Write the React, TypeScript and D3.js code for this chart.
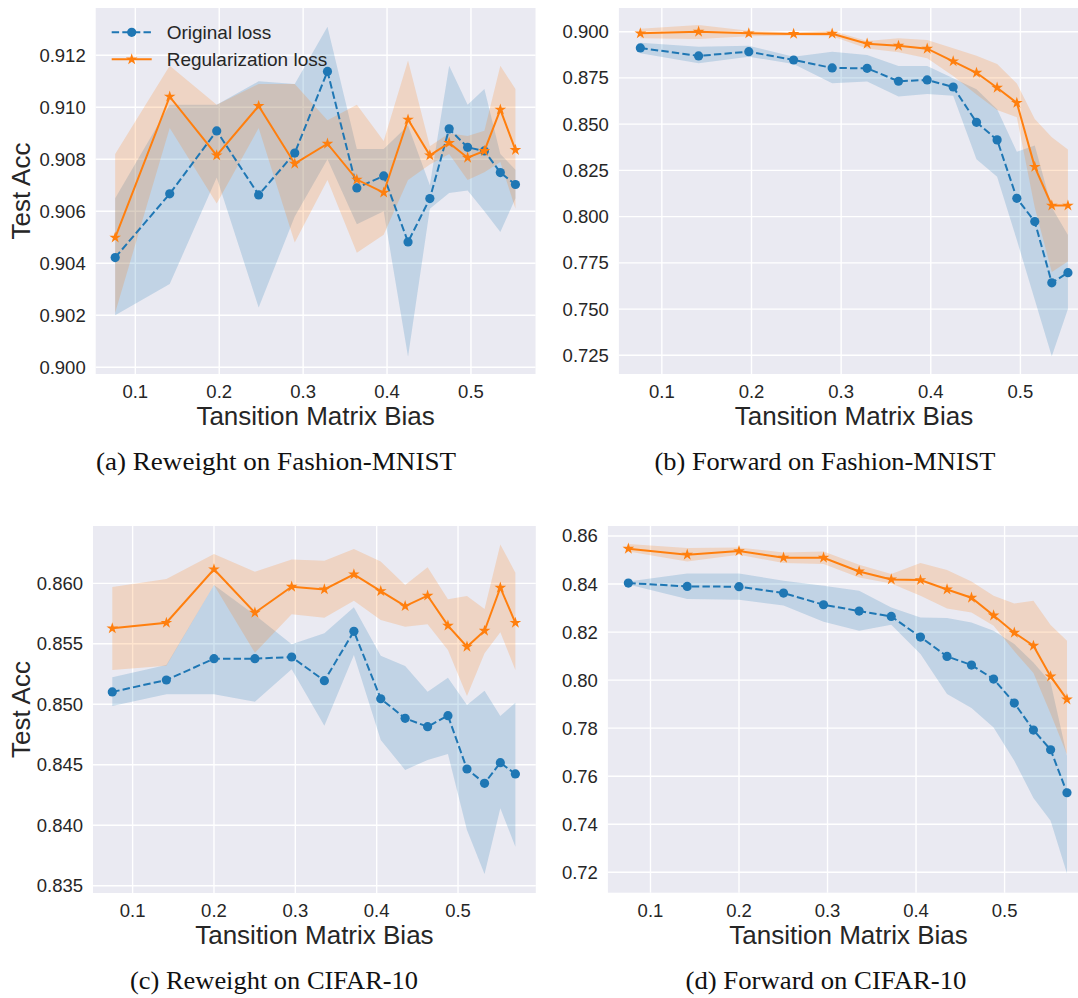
import React from 'react';
import * as d3 from 'd3';

// x positions (transition matrix bias) for each row of panels
const xTop = [0.076, 0.141, 0.197, 0.247, 0.290, 0.329, 0.364, 0.396, 0.425, 0.451, 0.474, 0.496, 0.516, 0.535, 0.553];
const xBottom = [0.075, 0.1415, 0.200, 0.2503, 0.2955, 0.3357, 0.372, 0.405, 0.435, 0.4626, 0.4876, 0.511, 0.5326, 0.552, 0.5705];

const xTicks = [0.1, 0.2, 0.3, 0.4, 0.5];

// (a) Reweight on Fashion-MNIST
const aOrig = [0.90422, 0.90667, 0.90909, 0.90663, 0.90824, 0.91138, 0.90690, 0.90736, 0.90482, 0.90649, 0.90917, 0.90846, 0.90832, 0.90749, 0.90703];
const aOrigLo = [0.9020, 0.9032, 0.9073, 0.9023, 0.9058, 0.9080, 0.9055, 0.9060, 0.9004, 0.9061, 0.9067, 0.9068, 0.9060, 0.9052, 0.9065];
const aOrigHi = [0.9065, 0.9101, 0.9101, 0.9110, 0.9109, 0.9131, 0.9084, 0.9084, 0.9093, 0.9070, 0.9116, 0.9101, 0.9107, 0.9082, 0.9076];
const aReg = [0.90499, 0.91041, 0.90815, 0.91005, 0.90783, 0.90860, 0.90722, 0.90672, 0.90953, 0.90815, 0.90863, 0.90806, 0.90832, 0.90991, 0.90836];
const aRegLo = [0.9021, 0.9092, 0.9063, 0.9092, 0.9048, 0.9072, 0.9044, 0.9051, 0.9072, 0.9078, 0.9082, 0.9072, 0.9075, 0.9079, 0.9061];
const aRegHi = [0.9082, 0.9116, 0.9101, 0.9109, 0.9109, 0.9095, 0.9101, 0.9087, 0.9118, 0.9085, 0.9090, 0.9089, 0.9091, 0.9116, 0.9107];
const aTicks = [0.900, 0.902, 0.904, 0.906, 0.908, 0.910, 0.912];

// (b) Forward on Fashion-MNIST
const bOrig = [0.8912, 0.8869, 0.8892, 0.8847, 0.8804, 0.8802, 0.8732, 0.8739, 0.8701, 0.8510, 0.8415, 0.8099, 0.7973, 0.7642, 0.7697];
const bOrigLo = [0.8883, 0.8829, 0.8865, 0.8825, 0.8721, 0.8730, 0.8649, 0.8663, 0.8654, 0.8310, 0.8216, 0.7874, 0.7550, 0.7245, 0.7500];
const bOrigHi = [0.8940, 0.8919, 0.8924, 0.8865, 0.8892, 0.8874, 0.8815, 0.8815, 0.8748, 0.8689, 0.8580, 0.8351, 0.8384, 0.8050, 0.7901];
const bReg = [0.8991, 0.9000, 0.8991, 0.8988, 0.8989, 0.8935, 0.8924, 0.8908, 0.8840, 0.8778, 0.8697, 0.8615, 0.8269, 0.8060, 0.8060];
const bRegLo = [0.8965, 0.8961, 0.8975, 0.8980, 0.8975, 0.8909, 0.8889, 0.8856, 0.8760, 0.8660, 0.8577, 0.8537, 0.8050, 0.7700, 0.7757];
const bRegHi = [0.9016, 0.9036, 0.9005, 0.8995, 0.9005, 0.8949, 0.8964, 0.8955, 0.8910, 0.8870, 0.8825, 0.8720, 0.8528, 0.8429, 0.8363];
const bTicks = [0.725, 0.750, 0.775, 0.800, 0.825, 0.850, 0.875, 0.900];

// (c) Reweight on CIFAR-10
const cOrig = [0.85102, 0.85201, 0.85377, 0.85377, 0.85391, 0.85195, 0.85603, 0.85046, 0.84884, 0.84815, 0.84906, 0.84465, 0.84347, 0.84517, 0.84424];
const cOrigLo = [0.84986, 0.85083, 0.85083, 0.85022, 0.85289, 0.84823, 0.85407, 0.84705, 0.84457, 0.84540, 0.84590, 0.83961, 0.83598, 0.84140, 0.83823];
const cOrigHi = [0.85223, 0.85325, 0.85986, 0.85738, 0.85496, 0.85587, 0.85802, 0.85402, 0.85316, 0.85104, 0.85220, 0.84994, 0.85112, 0.84903, 0.85013];
const cReg = [0.85628, 0.85674, 0.86116, 0.85757, 0.85972, 0.85950, 0.86074, 0.85936, 0.85812, 0.85898, 0.85650, 0.85476, 0.85608, 0.85964, 0.85674];
const cRegLo = [0.85283, 0.85319, 0.85986, 0.85427, 0.85744, 0.85716, 0.85856, 0.85697, 0.85642, 0.85661, 0.85449, 0.85069, 0.85421, 0.85595, 0.85283];
const cRegHi = [0.85970, 0.86036, 0.86242, 0.86096, 0.86198, 0.86187, 0.86283, 0.86180, 0.85986, 0.86132, 0.85868, 0.85895, 0.85788, 0.86322, 0.86088];
const cTicks = [0.835, 0.840, 0.845, 0.850, 0.855, 0.860];

// (d) Forward on CIFAR-10
const dOrig = [0.84042, 0.83900, 0.83888, 0.83625, 0.83138, 0.82876, 0.82651, 0.81793, 0.80986, 0.80628, 0.80045, 0.79046, 0.77922, 0.77102, 0.75312];
const dOrigLo = [0.83980, 0.83375, 0.83350, 0.83109, 0.82430, 0.82056, 0.82306, 0.81086, 0.79420, 0.78838, 0.78030, 0.76644, 0.75091, 0.74146, 0.71952];
const dOrigHi = [0.84108, 0.84441, 0.84441, 0.84137, 0.83930, 0.83721, 0.83027, 0.82610, 0.82584, 0.82401, 0.82056, 0.81500, 0.80736, 0.79904, 0.76852];
const dReg = [0.85470, 0.85220, 0.85374, 0.85095, 0.85095, 0.84525, 0.84190, 0.84167, 0.83775, 0.83430, 0.82693, 0.81973, 0.81431, 0.80153, 0.79196];
const dRegLo = [0.85357, 0.84940, 0.85220, 0.84874, 0.84833, 0.84277, 0.84025, 0.83513, 0.82985, 0.82818, 0.82264, 0.81200, 0.80300, 0.78600, 0.76900];
const dRegHi = [0.85665, 0.85499, 0.85524, 0.85316, 0.85357, 0.84803, 0.84416, 0.84874, 0.84583, 0.84108, 0.83513, 0.83192, 0.83305, 0.82293, 0.81640];
const dTicks = [0.72, 0.74, 0.76, 0.78, 0.80, 0.82, 0.84, 0.86];

const legendLabels = ['Original loss', 'Regularization loss'];

const BLUE = '#1f77b4';
const ORANGE = '#ff7f0e';
const TEXT = '#262626';
const SANS = '"Liberation Sans", Arial, "DejaVu Sans", sans-serif';
const SERIF = '"Liberation Serif", "DejaVu Serif", serif';

interface PanelProps {
  id: string;
  xs: number[];
  orig: number[]; origLo: number[]; origHi: number[];
  reg: number[]; regLo: number[]; regHi: number[];
  yTicks: number[];
  fmt: string;
  xDomain: [number, number];
  yDomain: [number, number];
  left: number; right: number; top: number; bottom: number;
  yLabel?: boolean;
  legend?: boolean;
  caption: string;
  captionX: number;
  captionW: number;
}

const starPath = d3.symbol(d3.symbolStar, 42)() || '';

const Panel: React.FC<PanelProps> = (p) => {
  const x = d3.scaleLinear().domain(p.xDomain).range([p.left, p.right]);
  const y = d3.scaleLinear().domain(p.yDomain).range([p.bottom, p.top]);
  const fmt = d3.format(p.fmt);

  const band = (lo: number[], hi: number[]) =>
    d3.area<number>()
      .x((_, i) => x(p.xs[i]))
      .y0((_, i) => y(lo[i]))
      .y1((_, i) => y(hi[i]))(lo) || '';
  const line = (v: number[]) =>
    d3.line<number>().x((_, i) => x(p.xs[i])).y(d => y(d))(v) || '';

  const cy = (p.top + p.bottom) / 2;
  const cx = (p.left + p.right) / 2;

  return (
    <g>
      <defs>
        <clipPath id={`clip-${p.id}`}>
          <rect x={p.left} y={p.top} width={p.right - p.left} height={p.bottom - p.top} />
        </clipPath>
      </defs>
      <rect x={p.left} y={p.top} width={p.right - p.left} height={p.bottom - p.top} fill="#eaeaf2" />

      {/* grid */}
      {p.yTicks.map(t => (
        <line key={`gy${t}`} x1={p.left} x2={p.right} y1={y(t)} y2={y(t)} stroke="#fff" strokeWidth={1.4} />
      ))}
      {xTicks.map(t => (
        <line key={`gx${t}`} x1={x(t)} x2={x(t)} y1={p.top} y2={p.bottom} stroke="#fff" strokeWidth={1.4} />
      ))}

      <g clipPath={`url(#clip-${p.id})`}>
        <path d={band(p.origLo, p.origHi)} fill={BLUE} fillOpacity={0.2} />
        <path d={band(p.regLo, p.regHi)} fill={ORANGE} fillOpacity={0.2} />
        <path d={line(p.orig)} fill="none" stroke={BLUE} strokeWidth={2} strokeDasharray="7.4,3.2" />
        {p.orig.map((v, i) => (
          <circle key={`o${i}`} cx={x(p.xs[i])} cy={y(v)} r={4.6} fill={BLUE} />
        ))}
        <path d={line(p.reg)} fill="none" stroke={ORANGE} strokeWidth={2} />
        {p.reg.map((v, i) => (
          <path key={`r${i}`} d={starPath} transform={`translate(${x(p.xs[i])},${y(v)})`} fill={ORANGE} />
        ))}
      </g>

      {/* tick labels */}
      <g fontFamily={SANS} fontSize={18.5} fill={TEXT}>
        {p.yTicks.map(t => (
          <text key={`ty${t}`} x={p.left - 10} y={y(t)} dy="0.35em" textAnchor="end">{fmt(t)}</text>
        ))}
        {xTicks.map(t => (
          <text key={`tx${t}`} x={x(t)} y={p.bottom + 24} textAnchor="middle">{d3.format('.1f')(t)}</text>
        ))}
      </g>

      <text x={cx} y={p.bottom + 51} textAnchor="middle" fontFamily={SANS} fontSize={26} fill={TEXT}>
        Tansition Matrix Bias
      </text>
      {p.yLabel && (
        <text transform={`translate(30,${cy}) rotate(-90)`} textAnchor="middle" fontFamily={SANS} fontSize={26} fill={TEXT}>
          Test Acc
        </text>
      )}

      {p.legend && (
        <g fontFamily={SANS} fontSize={19} fill={TEXT}>
          <line x1={p.left + 16} x2={p.left + 56} y1={32.3} y2={32.3} stroke={BLUE} strokeWidth={2} strokeDasharray="7.4,3.2" />
          <circle cx={p.left + 36} cy={32.3} r={4.6} fill={BLUE} />
          <text x={p.left + 71} y={32.3} dy="0.35em">{legendLabels[0]}</text>
          <line x1={p.left + 16} x2={p.left + 56} y1={59.3} y2={59.3} stroke={ORANGE} strokeWidth={2} />
          <path d={starPath} transform={`translate(${p.left + 36},59.3)`} fill={ORANGE} />
          <text x={p.left + 71} y={59.3} dy="0.35em">{legendLabels[1]}</text>
        </g>
      )}

      <text
        x={p.captionX - p.captionW / 2}
        y={p.bottom + 96}
        fontFamily={SERIF}
        fontSize={25}
        fill="#111"
        textLength={p.captionW}
        lengthAdjust="spacingAndGlyphs"
      >
        {p.caption}
      </text>
    </g>
  );
};

export default function App() {
  return (
    <div style={{ position: 'absolute', left: 0, top: 0, background: '#fff' }}>
      <svg width={1078} height={998} viewBox="0 0 1078 998" style={{ display: 'block' }}>
        <rect width={1078} height={998} fill="#fff" />
        <Panel
          id="a" xs={xTop}
          orig={aOrig} origLo={aOrigLo} origHi={aOrigHi}
          reg={aReg} regLo={aRegLo} regHi={aRegHi}
          yTicks={aTicks} fmt=".3f"
          xDomain={[0.0528, 0.5769]} yDomain={[0.89974, 0.91382]}
          left={95.7} right={535.5} top={8} bottom={374}
          yLabel legend
          caption="(a) Reweight on Fashion-MNIST" captionX={276} captionW={360}
        />
        <Panel
          id="b" xs={xTop}
          orig={bOrig} origLo={bOrigLo} origHi={bOrigHi}
          reg={bReg} regLo={bRegLo} regHi={bRegHi}
          yTicks={bTicks} fmt=".3f"
          xDomain={[0.0521, 0.5765]} yDomain={[0.7149, 0.91281]}
          left={618.9} right={1089} top={8} bottom={374}
          caption="(b) Forward on Fashion-MNIST" captionX={825} captionW={341}
        />
        <Panel
          id="c" xs={xBottom}
          orig={cOrig} origLo={cOrigLo} origHi={cOrigHi}
          reg={cReg} regLo={cRegLo} regHi={cRegHi}
          yTicks={cTicks} fmt=".3f"
          xDomain={[0.0513, 0.5956]} yDomain={[0.8344, 0.86474]}
          left={93} right={535.8} top={526} bottom={893}
          yLabel
          caption="(c) Reweight on CIFAR-10" captionX={274} captionW={288}
        />
        <Panel
          id="d" xs={xBottom}
          orig={dOrig} origLo={dOrigLo} origHi={dOrigHi}
          reg={dReg} regLo={dRegLo} regHi={dRegHi}
          yTicks={dTicks} fmt=".2f"
          xDomain={[0.0519, 0.5956]} yDomain={[0.7115, 0.86416]}
          left={607.9} right={1089.2} top={526} bottom={892.7}
          caption="(d) Forward on CIFAR-10" captionX={826} captionW={281}
        />
      </svg>
    </div>
  );
}
